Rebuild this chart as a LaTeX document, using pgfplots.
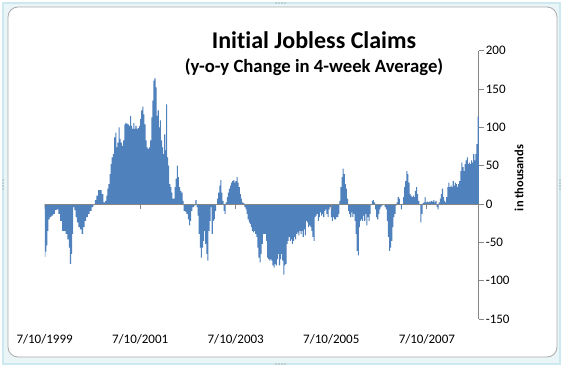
\documentclass[border=0pt]{standalone}
\usepackage{pgfplots}
\pgfplotsset{compat=1.18}
\usepackage{pgfplotstable}
\usepackage{fontspec}
\setmainfont{Carlito}[Ligatures=NoCommon]
\definecolor{barblue}{RGB}{79,129,189}
\definecolor{axgray}{RGB}{134,134,134}
\definecolor{framecyan}{RGB}{205,232,238}
\definecolor{framegray}{RGB}{170,170,170}
\pgfplotstableread{
x y
125 -69
128 -62
130 -54
133 -35
136 -20
140 -17
145 -15
150 -13
155 -8
160 -7
165 -13
170 -22
175 -35
180 -35
185 -39
190 -46
193 -57
196 -78
199 -65
202 -39
205 -4
208 -8
212 -17
216 -24
220 -30
225 -33
229 -39
233 -30
237 -22
242 -17
247 -13
252 -9
257 -4
262 -1
266 5
270 11
275 18
280 18
285 13
290 2
294 4
297 11
300 20
303 26
306 39
309 52
312 61
316 65
319 87
322 93
325 74
328 80
331 100
334 85
337 80
340 76
344 83
347 104
350 106
353 105
356 104
360 102
363 115
366 102
369 98
372 106
375 98
378 102
381 98
385 99
388 102
391 111
394 122
397 127
400 117
403 104
406 83
409 74
412 72
416 74
419 83
422 113
425 135
428 161
431 164
434 152
437 115
440 122
443 100
446 109
449 83
452 74
455 65
458 91
461 70
463 130
466 61
469 50
472 26
475 22
478 15
481 7
484 7
487 22
490 33
493 50
496 35
499 22
502 17
506 15
509 4
512 -9
516 -10
520 -13
524 -20
527 -28
530 -22
533 -9
537 -4
541 -2
545 5
548 -4
551 -15
554 -39
557 -57
560 -70
563 -57
566 -48
569 -35
572 -52
575 -65
578 -74
581 -35
584 -22
587 -4
590 -39
593 -22
596 -20
599 -9
602 0
605 7
608 15
611 24
614 31
617 15
620 4
623 -9
626 -13
629 2
632 9
635 15
638 20
641 24
644 28
647 30
650 31
653 28
656 30
659 35
662 28
665 22
668 13
671 7
674 2
678 1
681 -4
684 -7
687 -13
690 -20
693 -24
696 -26
699 -30
702 -35
705 -37
708 -35
711 -39
714 -43
717 -57
720 -70
723 -76
726 -65
729 -52
732 -39
735 -39
738 -39
741 -48
744 -70
747 -72
750 -74
753 -72
756 -74
759 -80
762 -83
765 -78
768 -80
771 -72
774 -65
777 -80
780 -72
783 -65
786 -74
789 -92
792 -80
795 -78
798 -52
801 -48
804 -43
807 -48
810 -46
813 -52
816 -48
819 -43
822 -46
825 -39
828 -37
831 -41
834 -35
837 -39
840 -35
843 -43
846 -33
849 -41
852 -22
855 -24
858 -30
861 -28
864 -30
867 -35
870 -43
873 -48
876 -17
879 -15
882 -13
885 -22
888 -17
891 -11
894 -15
897 -13
900 -17
903 -9
906 -7
909 -13
912 -17
915 -7
918 -4
921 -17
924 -22
927 -17
930 -20
933 -20
936 -17
939 -17
942 -13
945 4
948 22
951 35
954 46
957 39
960 26
963 20
966 7
969 -9
972 -13
975 -17
978 -11
981 -17
984 -13
987 -22
990 -39
993 -61
996 -67
999 -30
1002 -22
1005 -20
1008 -22
1011 -15
1014 -22
1017 -13
1020 -28
1023 -17
1026 -22
1029 -13
1032 0
1035 4
1038 5
1041 2
1044 -7
1047 -17
1050 -20
1053 -13
1056 -7
1059 -4
1062 -2
1065 -1
1068 -1
1071 -4
1074 -7
1077 -22
1080 -43
1083 -61
1086 -57
1089 -48
1092 -30
1095 -17
1098 -13
1101 -2
1104 2
1107 9
1110 7
1113 0
1116 -7
1119 0
1122 9
1125 22
1128 30
1131 43
1134 39
1137 28
1140 13
1143 11
1146 9
1149 11
1152 9
1155 17
1158 22
1161 13
1164 4
1167 -1
1170 -24
1173 -13
1176 1
1179 2
1182 9
1185 2
1188 3
1191 2
1194 3
1197 3
1200 4
1203 3
1206 5
1209 2
1212 4
1215 -4
1218 -7
1221 2
1224 7
1227 13
1230 20
1233 9
1236 4
1239 2
1242 9
1245 22
1248 28
1251 22
1254 24
1257 22
1260 30
1263 24
1266 28
1269 26
1272 22
1275 26
1278 30
1281 43
1284 54
1287 48
1290 43
1293 52
1296 57
1299 61
1302 52
1305 54
1308 52
1311 57
1314 54
1317 65
1320 57
1323 65
1326 78
1329 114
1331 114
}\claims
\begin{document}
\begin{tikzpicture}
\begin{scope}[x=1pt,y=1pt]
\path[use as bounding box] (0,0) rectangle (563,367);
\fill[white] (0,0) rectangle (563,367);
\fill[framecyan!45] (3,3) rectangle (560,364);
\draw[framecyan, line width=1.2pt] (3,3) rectangle (560,364);
\draw[rounded corners=10pt, draw=framegray, fill=white, line width=0.8pt] (8,10) rectangle (557,360);
\foreach \dx in {0,3,6,9} {
  \fill[gray] (276+\dx,364) circle (0.6);
  \fill[gray] (276+\dx,3) circle (0.6);
  \fill[gray] (3,178+\dx) circle (0.6);
  \fill[gray] (560,178+\dx) circle (0.6);
}
\end{scope}
\begin{axis}[
  at={(44.6pt,48pt)}, anchor=south west,
  scale only axis, width=434.2pt, height=268.3pt,
  xmin=124, xmax=1331, ymin=-150, ymax=200,
  axis x line*=bottom, axis y line*=right,
  x axis line style={draw=none},
  y axis line style={draw=axgray, line width=0.8pt},
  xtick={124,389.7,655.3,921,1186.6},
  xticklabels={7/10/1999,7/10/2001,7/10/2003,7/10/2005,7/10/2007},
  x tick style={draw=none},
  xticklabel style={font=\fontsize{13}{15}\selectfont, yshift=-12pt},
  ytick={-150,-100,...,200},
  ytick align=outside, y tick style={draw=axgray, line width=0.8pt},
  major tick length=5pt,
  yticklabel style={font=\fontsize{13}{15}\selectfont, anchor=west, xshift=-1.5pt},
  /pgf/number format/assume math mode=true,
  clip=true,
]
\addplot[fill=barblue, draw=none, const plot mark mid] table[x=x,y=y] {\claims} \closedcycle;
\draw[axgray, line width=0.8pt] (axis cs:124,0) -- (axis cs:1331,0);
\pgfplotsinvokeforeach{124,389.7,655.3,921,1186.6}{
  \draw[axgray, line width=0.8pt] (axis cs:#1,0) -- ++(0pt,-5pt);
}
\end{axis}
\begin{scope}[x=1pt,y=1pt]
\node[anchor=base, font=\fontsize{24}{28}\bfseries\selectfont] at (314,318) {Initial Jobless Claims};
\node[anchor=base, font=\fontsize{18.7}{22}\bfseries\selectfont] at (314,294) {(y-o-y Change in 4-week Average)};
\node[rotate=90, font=\fontsize{12.4}{14}\bfseries\selectfont] at (519,189) {in thousands};
\end{scope}
\end{tikzpicture}
\end{document}
